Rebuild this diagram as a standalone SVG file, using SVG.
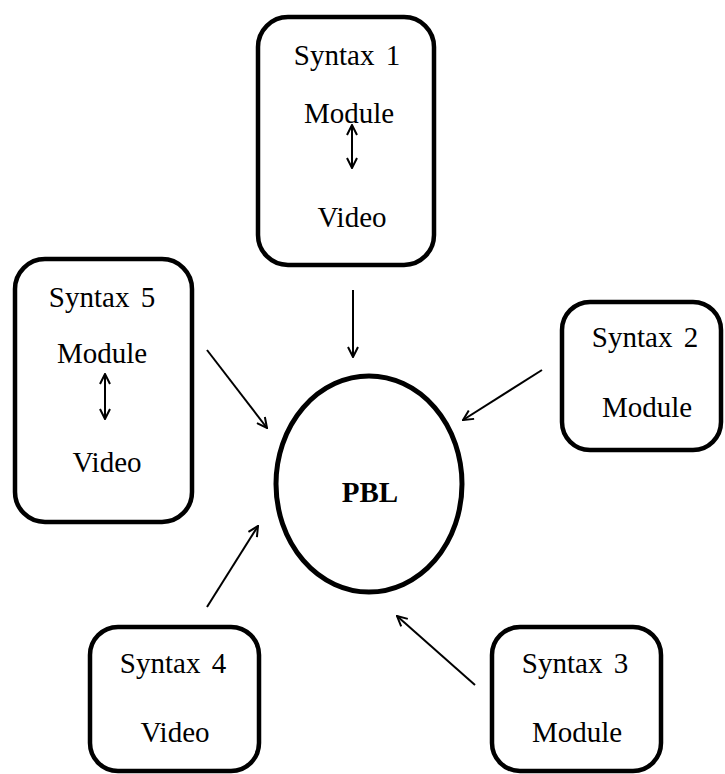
<svg xmlns="http://www.w3.org/2000/svg" width="725" height="774" viewBox="0 0 725 774">
<style>
.box{fill:#fff;stroke:#000;stroke-width:4.5}
.t{font-family:"Liberation Serif","Times New Roman",serif;font-size:29px;fill:#000;text-anchor:middle}
.b{font-weight:bold}
.c{stroke:#000;stroke-width:2;fill:none}
</style>
<defs>
<marker id="ah" viewBox="0 0 12 12" refX="11" refY="6" markerWidth="12" markerHeight="12" markerUnits="userSpaceOnUse" orient="auto-start-reverse">
<path d="M1,1 L11,6 L1,11" fill="none" stroke="#000" stroke-width="2"/>
</marker>
</defs>
<rect width="725" height="774" fill="#fff"/>
<g id="syntax1">
<rect class="box" x="258" y="17" width="176" height="248" rx="30"/>
<text class="t" x="347" y="65" word-spacing="4">Syntax 1</text>
<text class="t" x="349" y="123">Module</text>
<line class="c" x1="352" y1="125" x2="352" y2="168" marker-start="url(#ah)" marker-end="url(#ah)"/>
<text class="t" x="352" y="227">Video</text>
</g>
<g id="syntax5">
<rect class="box" x="15" y="259" width="177" height="263" rx="30"/>
<text class="t" x="102" y="307" word-spacing="4">Syntax 5</text>
<text class="t" x="102" y="363">Module</text>
<line class="c" x1="105" y1="374" x2="105" y2="419" marker-start="url(#ah)" marker-end="url(#ah)"/>
<text class="t" x="107" y="472">Video</text>
</g>
<g id="syntax2">
<rect class="box" x="562" y="302" width="159" height="148" rx="28"/>
<text class="t" x="645" y="347" word-spacing="4">Syntax 2</text>
<text class="t" x="647" y="417">Module</text>
</g>
<g id="syntax4">
<rect class="box" x="90" y="627" width="169" height="144" rx="28"/>
<text class="t" x="173" y="673" word-spacing="4">Syntax 4</text>
<text class="t" x="175" y="742">Video</text>
</g>
<g id="syntax3">
<rect class="box" x="492" y="627" width="169" height="144" rx="28"/>
<text class="t" x="575" y="673" word-spacing="4">Syntax 3</text>
<text class="t" x="577" y="742">Module</text>
</g>
<g id="pbl">
<ellipse cx="369" cy="484" rx="93" ry="108" fill="#fff" stroke="#000" stroke-width="5"/>
<text class="t b" x="370" y="502">PBL</text>
</g>
<g id="connectors">
<line class="c" x1="353" y1="290" x2="353" y2="357" marker-end="url(#ah)"/>
<line class="c" x1="207" y1="350" x2="267" y2="428" marker-end="url(#ah)"/>
<line class="c" x1="542" y1="370" x2="463" y2="420" marker-end="url(#ah)"/>
<line class="c" x1="207" y1="607" x2="258" y2="526" marker-end="url(#ah)"/>
<line class="c" x1="475" y1="685" x2="397" y2="616" marker-end="url(#ah)"/>
</g>
</svg>
